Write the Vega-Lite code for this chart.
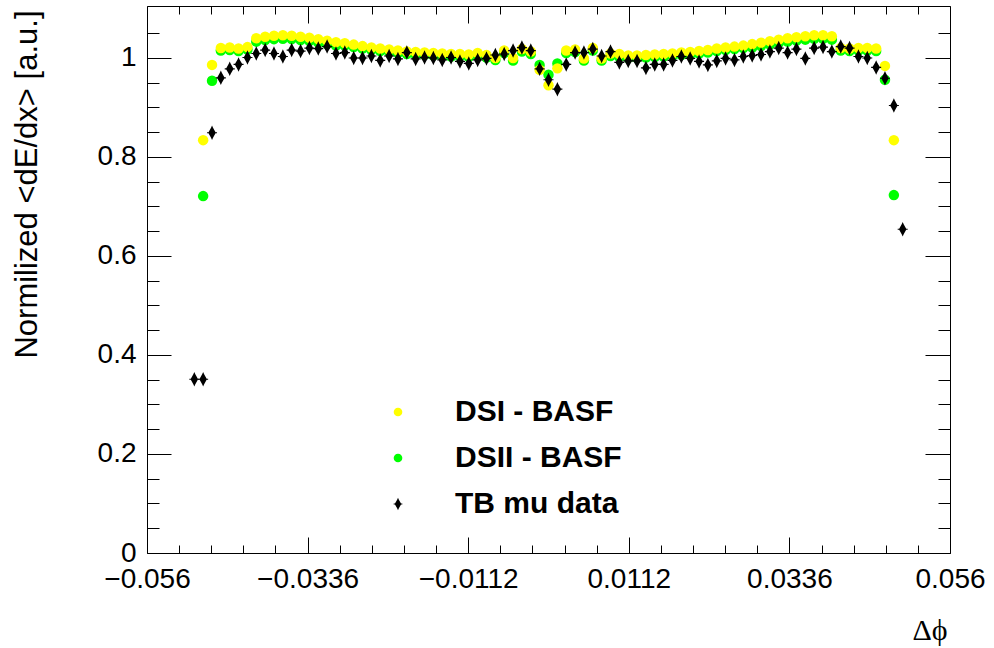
{
  "$schema": "https://vega.github.io/schema/vega-lite/v6.json",
  "width": 803,
  "height": 547,
  "autosize": {"type": "none"},
  "padding": {"left": 147, "top": 6, "right": 44, "bottom": 95},
  "background": "white",
  "config": {
    "view": {"stroke": "#000", "strokeWidth": 1},
    "font": "Liberation Sans",
    "axis": {"domain": false, "grid": false, "tickColor": "#000", "tickWidth": 1, "labelColor": "#000", "labelFont": "Liberation Sans", "labelFontSize": 28, "labelOverlap": false, "labelFlush": false, "labelBound": false, "titleColor": "#000", "titleFontWeight": "normal"}
  },
  "datasets": {
    "sim": [
      {"s":"DSII - BASF","x":-0.04817,"y":0.721},{"s":"DSII - BASF","x":-0.04693,"y":0.954},{"s":"DSII - BASF","x":-0.0457,"y":1.015},{"s":"DSII - BASF","x":-0.04446,"y":1.016},{"s":"DSII - BASF","x":-0.04323,"y":1.014},{"s":"DSII - BASF","x":-0.04199,"y":1.017},{"s":"DSII - BASF","x":-0.04076,"y":1.033},{"s":"DSII - BASF","x":-0.03952,"y":1.036},{"s":"DSII - BASF","x":-0.03829,"y":1.038},{"s":"DSII - BASF","x":-0.03705,"y":1.039},
      {"s":"DSII - BASF","x":-0.03582,"y":1.038},{"s":"DSII - BASF","x":-0.03458,"y":1.036},{"s":"DSII - BASF","x":-0.03335,"y":1.034},{"s":"DSII - BASF","x":-0.03211,"y":1.031},{"s":"DSII - BASF","x":-0.03088,"y":1.028},{"s":"DSII - BASF","x":-0.02964,"y":1.025},{"s":"DSII - BASF","x":-0.02841,"y":1.025},{"s":"DSII - BASF","x":-0.02717,"y":1.022},{"s":"DSII - BASF","x":-0.02594,"y":1.019},{"s":"DSII - BASF","x":-0.0247,"y":1.016},
      {"s":"DSII - BASF","x":-0.02347,"y":1.014},{"s":"DSII - BASF","x":-0.02223,"y":1.012},{"s":"DSII - BASF","x":-0.021,"y":1.010},{"s":"DSII - BASF","x":-0.01976,"y":1.008},{"s":"DSII - BASF","x":-0.01853,"y":1.007},{"s":"DSII - BASF","x":-0.01729,"y":1.006},{"s":"DSII - BASF","x":-0.01606,"y":1.005},{"s":"DSII - BASF","x":-0.01482,"y":1.004},{"s":"DSII - BASF","x":-0.01359,"y":1.003},{"s":"DSII - BASF","x":-0.01235,"y":1.003},
      {"s":"DSII - BASF","x":-0.01112,"y":1.002},{"s":"DSII - BASF","x":-0.00988,"y":1.005},{"s":"DSII - BASF","x":-0.00865,"y":1.001},{"s":"DSII - BASF","x":-0.00741,"y":0.996},{"s":"DSII - BASF","x":-0.00618,"y":1.010},{"s":"DSII - BASF","x":-0.00494,"y":0.995},{"s":"DSII - BASF","x":-0.00371,"y":1.013},{"s":"DSII - BASF","x":-0.00247,"y":1.008},{"s":"DSII - BASF","x":-0.00124,"y":0.986},{"s":"DSII - BASF","x":0,"y":0.966},
      {"s":"DSII - BASF","x":0.00124,"y":0.989},{"s":"DSII - BASF","x":0.00247,"y":1.010},{"s":"DSII - BASF","x":0.00371,"y":1.012},{"s":"DSII - BASF","x":0.00494,"y":0.995},{"s":"DSII - BASF","x":0.00618,"y":1.015},{"s":"DSII - BASF","x":0.00741,"y":0.995},{"s":"DSII - BASF","x":0.00865,"y":1.004},{"s":"DSII - BASF","x":0.00988,"y":1.002},{"s":"DSII - BASF","x":0.01112,"y":1.000},{"s":"DSII - BASF","x":0.01235,"y":1.000},
      {"s":"DSII - BASF","x":0.01359,"y":1.001},{"s":"DSII - BASF","x":0.01482,"y":1.002},{"s":"DSII - BASF","x":0.01606,"y":1.003},{"s":"DSII - BASF","x":0.01729,"y":1.004},{"s":"DSII - BASF","x":0.01853,"y":1.006},{"s":"DSII - BASF","x":0.01976,"y":1.007},{"s":"DSII - BASF","x":0.021,"y":1.009},{"s":"DSII - BASF","x":0.02223,"y":1.011},{"s":"DSII - BASF","x":0.02347,"y":1.014},{"s":"DSII - BASF","x":0.0247,"y":1.016},
      {"s":"DSII - BASF","x":0.02594,"y":1.018},{"s":"DSII - BASF","x":0.02717,"y":1.020},{"s":"DSII - BASF","x":0.02841,"y":1.021},{"s":"DSII - BASF","x":0.02964,"y":1.024},{"s":"DSII - BASF","x":0.03088,"y":1.027},{"s":"DSII - BASF","x":0.03211,"y":1.030},{"s":"DSII - BASF","x":0.03335,"y":1.033},{"s":"DSII - BASF","x":0.03458,"y":1.035},{"s":"DSII - BASF","x":0.03582,"y":1.037},{"s":"DSII - BASF","x":0.03705,"y":1.039},
      {"s":"DSII - BASF","x":0.03829,"y":1.039},{"s":"DSII - BASF","x":0.03952,"y":1.037},{"s":"DSII - BASF","x":0.04076,"y":1.015},{"s":"DSII - BASF","x":0.04199,"y":1.014},{"s":"DSII - BASF","x":0.04323,"y":1.015},{"s":"DSII - BASF","x":0.04446,"y":1.015},{"s":"DSII - BASF","x":0.0457,"y":1.014},{"s":"DSII - BASF","x":0.04693,"y":0.956},{"s":"DSII - BASF","x":0.04817,"y":0.723},
      {"s":"DSI - BASF","x":-0.04817,"y":0.834},{"s":"DSI - BASF","x":-0.04693,"y":0.986},{"s":"DSI - BASF","x":-0.0457,"y":1.020},{"s":"DSI - BASF","x":-0.04446,"y":1.021},{"s":"DSI - BASF","x":-0.04323,"y":1.019},{"s":"DSI - BASF","x":-0.04199,"y":1.022},{"s":"DSI - BASF","x":-0.04076,"y":1.040},{"s":"DSI - BASF","x":-0.03952,"y":1.043},{"s":"DSI - BASF","x":-0.03829,"y":1.045},{"s":"DSI - BASF","x":-0.03705,"y":1.046},
      {"s":"DSI - BASF","x":-0.03582,"y":1.045},{"s":"DSI - BASF","x":-0.03458,"y":1.043},{"s":"DSI - BASF","x":-0.03335,"y":1.041},{"s":"DSI - BASF","x":-0.03211,"y":1.038},{"s":"DSI - BASF","x":-0.03088,"y":1.035},{"s":"DSI - BASF","x":-0.02964,"y":1.032},{"s":"DSI - BASF","x":-0.02841,"y":1.030},{"s":"DSI - BASF","x":-0.02717,"y":1.027},{"s":"DSI - BASF","x":-0.02594,"y":1.024},{"s":"DSI - BASF","x":-0.0247,"y":1.021},
      {"s":"DSI - BASF","x":-0.02347,"y":1.019},{"s":"DSI - BASF","x":-0.02223,"y":1.017},{"s":"DSI - BASF","x":-0.021,"y":1.015},{"s":"DSI - BASF","x":-0.01976,"y":1.013},{"s":"DSI - BASF","x":-0.01853,"y":1.012},{"s":"DSI - BASF","x":-0.01729,"y":1.011},{"s":"DSI - BASF","x":-0.01606,"y":1.010},{"s":"DSI - BASF","x":-0.01482,"y":1.009},{"s":"DSI - BASF","x":-0.01359,"y":1.008},{"s":"DSI - BASF","x":-0.01235,"y":1.008},
      {"s":"DSI - BASF","x":-0.01112,"y":1.007},{"s":"DSI - BASF","x":-0.00988,"y":1.010},{"s":"DSI - BASF","x":-0.00865,"y":1.006},{"s":"DSI - BASF","x":-0.00741,"y":1.000},{"s":"DSI - BASF","x":-0.00618,"y":1.015},{"s":"DSI - BASF","x":-0.00494,"y":1.000},{"s":"DSI - BASF","x":-0.00371,"y":1.018},{"s":"DSI - BASF","x":-0.00247,"y":1.013},{"s":"DSI - BASF","x":-0.00124,"y":0.976},{"s":"DSI - BASF","x":0,"y":0.945},
      {"s":"DSI - BASF","x":0.00124,"y":0.979},{"s":"DSI - BASF","x":0.00247,"y":1.015},{"s":"DSI - BASF","x":0.00371,"y":1.017},{"s":"DSI - BASF","x":0.00494,"y":0.999},{"s":"DSI - BASF","x":0.00618,"y":1.020},{"s":"DSI - BASF","x":0.00741,"y":0.999},{"s":"DSI - BASF","x":0.00865,"y":1.009},{"s":"DSI - BASF","x":0.00988,"y":1.008},{"s":"DSI - BASF","x":0.01112,"y":1.005},{"s":"DSI - BASF","x":0.01235,"y":1.005},
      {"s":"DSI - BASF","x":0.01359,"y":1.006},{"s":"DSI - BASF","x":0.01482,"y":1.007},{"s":"DSI - BASF","x":0.01606,"y":1.008},{"s":"DSI - BASF","x":0.01729,"y":1.009},{"s":"DSI - BASF","x":0.01853,"y":1.011},{"s":"DSI - BASF","x":0.01976,"y":1.012},{"s":"DSI - BASF","x":0.021,"y":1.014},{"s":"DSI - BASF","x":0.02223,"y":1.016},{"s":"DSI - BASF","x":0.02347,"y":1.019},{"s":"DSI - BASF","x":0.0247,"y":1.021},
      {"s":"DSI - BASF","x":0.02594,"y":1.023},{"s":"DSI - BASF","x":0.02717,"y":1.025},{"s":"DSI - BASF","x":0.02841,"y":1.028},{"s":"DSI - BASF","x":0.02964,"y":1.031},{"s":"DSI - BASF","x":0.03088,"y":1.034},{"s":"DSI - BASF","x":0.03211,"y":1.037},{"s":"DSI - BASF","x":0.03335,"y":1.040},{"s":"DSI - BASF","x":0.03458,"y":1.042},{"s":"DSI - BASF","x":0.03582,"y":1.044},{"s":"DSI - BASF","x":0.03705,"y":1.046},
      {"s":"DSI - BASF","x":0.03829,"y":1.046},{"s":"DSI - BASF","x":0.03952,"y":1.044},{"s":"DSI - BASF","x":0.04076,"y":1.020},{"s":"DSI - BASF","x":0.04199,"y":1.019},{"s":"DSI - BASF","x":0.04323,"y":1.020},{"s":"DSI - BASF","x":0.04446,"y":1.020},{"s":"DSI - BASF","x":0.0457,"y":1.019},{"s":"DSI - BASF","x":0.04693,"y":0.984},{"s":"DSI - BASF","x":0.04817,"y":0.834}
    ],
    "tb": [
      {"s":"TB mu data","x":-0.0494,"y":0.351},{"s":"TB mu data","x":-0.04817,"y":0.351},{"s":"TB mu data","x":-0.04693,"y":0.849},{"s":"TB mu data","x":-0.0457,"y":0.960},{"s":"TB mu data","x":-0.04446,"y":0.978},{"s":"TB mu data","x":-0.04323,"y":0.987},{"s":"TB mu data","x":-0.04199,"y":1.001},{"s":"TB mu data","x":-0.04076,"y":1.009},{"s":"TB mu data","x":-0.03952,"y":1.016},{"s":"TB mu data","x":-0.03829,"y":1.009},
      {"s":"TB mu data","x":-0.03705,"y":1.003},{"s":"TB mu data","x":-0.03582,"y":1.016},{"s":"TB mu data","x":-0.03458,"y":1.014},{"s":"TB mu data","x":-0.03335,"y":1.020},{"s":"TB mu data","x":-0.03211,"y":1.019},{"s":"TB mu data","x":-0.03088,"y":1.023},{"s":"TB mu data","x":-0.02964,"y":1.009},{"s":"TB mu data","x":-0.02841,"y":1.011},{"s":"TB mu data","x":-0.02717,"y":1.000},{"s":"TB mu data","x":-0.02594,"y":1.000},
      {"s":"TB mu data","x":-0.0247,"y":1.004},{"s":"TB mu data","x":-0.02347,"y":0.995},{"s":"TB mu data","x":-0.02223,"y":1.004},{"s":"TB mu data","x":-0.021,"y":0.998},{"s":"TB mu data","x":-0.01976,"y":1.011},{"s":"TB mu data","x":-0.01853,"y":0.998},{"s":"TB mu data","x":-0.01729,"y":1.001},{"s":"TB mu data","x":-0.01606,"y":1.000},{"s":"TB mu data","x":-0.01482,"y":0.996},{"s":"TB mu data","x":-0.01359,"y":1.001},
      {"s":"TB mu data","x":-0.01235,"y":0.993},{"s":"TB mu data","x":-0.01112,"y":0.989},{"s":"TB mu data","x":-0.00988,"y":0.996},{"s":"TB mu data","x":-0.00865,"y":0.999},{"s":"TB mu data","x":-0.00741,"y":1.006},{"s":"TB mu data","x":-0.00618,"y":1.008},{"s":"TB mu data","x":-0.00494,"y":1.015},{"s":"TB mu data","x":-0.00371,"y":1.021},{"s":"TB mu data","x":-0.00247,"y":1.015},{"s":"TB mu data","x":-0.00124,"y":0.978},
      {"s":"TB mu data","x":0,"y":0.956},{"s":"TB mu data","x":0.00124,"y":0.937},{"s":"TB mu data","x":0.00247,"y":0.987},{"s":"TB mu data","x":0.00371,"y":1.011},{"s":"TB mu data","x":0.00494,"y":1.011},{"s":"TB mu data","x":0.00618,"y":1.018},{"s":"TB mu data","x":0.00741,"y":1.004},{"s":"TB mu data","x":0.00865,"y":1.013},{"s":"TB mu data","x":0.00988,"y":0.991},{"s":"TB mu data","x":0.01112,"y":0.994},
      {"s":"TB mu data","x":0.01235,"y":0.994},{"s":"TB mu data","x":0.01359,"y":0.980},{"s":"TB mu data","x":0.01482,"y":0.987},{"s":"TB mu data","x":0.01606,"y":0.987},{"s":"TB mu data","x":0.01729,"y":0.995},{"s":"TB mu data","x":0.01853,"y":1.003},{"s":"TB mu data","x":0.01976,"y":0.999},{"s":"TB mu data","x":0.021,"y":0.993},{"s":"TB mu data","x":0.02223,"y":0.986},{"s":"TB mu data","x":0.02347,"y":0.994},
      {"s":"TB mu data","x":0.0247,"y":0.999},{"s":"TB mu data","x":0.02594,"y":0.996},{"s":"TB mu data","x":0.02717,"y":1.003},{"s":"TB mu data","x":0.02841,"y":1.005},{"s":"TB mu data","x":0.02964,"y":1.007},{"s":"TB mu data","x":0.03088,"y":1.013},{"s":"TB mu data","x":0.03211,"y":1.020},{"s":"TB mu data","x":0.03335,"y":1.011},{"s":"TB mu data","x":0.03458,"y":1.018},{"s":"TB mu data","x":0.03582,"y":0.999},
      {"s":"TB mu data","x":0.03705,"y":1.020},{"s":"TB mu data","x":0.03829,"y":1.022},{"s":"TB mu data","x":0.03952,"y":1.013},{"s":"TB mu data","x":0.04076,"y":1.023},{"s":"TB mu data","x":0.04199,"y":1.020},{"s":"TB mu data","x":0.04323,"y":1.003},{"s":"TB mu data","x":0.04446,"y":1.000},{"s":"TB mu data","x":0.0457,"y":0.981},{"s":"TB mu data","x":0.04693,"y":0.959},{"s":"TB mu data","x":0.04817,"y":0.904},
      {"s":"TB mu data","x":0.0494,"y":0.654}
    ]
  },
  "layer": [
    {
      "data": {"name": "sim"},
      "mark": {"type": "point", "filled": true, "opacity": 1, "size": 110, "strokeWidth": 0},
      "encoding": {
        "x": {"field": "x", "type": "quantitative", "scale": {"domain": [-0.056, 0.056], "nice": false, "zero": false},
          "axis": {"orient": "bottom",
            "values": [-0.056,-0.05152,-0.04704,-0.04256,-0.03808,-0.0336,-0.02912,-0.02464,-0.02016,-0.01568,-0.0112,-0.00672,-0.00224,0.00224,0.00672,0.0112,0.01568,0.02016,0.02464,0.02912,0.0336,0.03808,0.04256,0.04704,0.05152,0.056],
            "labelExpr": "abs((datum.value + 0.056) / 0.0224 - round((datum.value + 0.056) / 0.0224)) < 0.01 ? format(datum.value, '.4~f') : ''",
            "tickSize": {"condition": {"test": "abs((datum.value + 0.056) / 0.0224 - round((datum.value + 0.056) / 0.0224)) < 0.01", "value": -16}, "value": -8},
            "labelPadding": 28,
            "title": "Δϕ", "titleFont": "Liberation Serif", "titleFontSize": 30, "titleAnchor": "end", "titleAlign": "right", "titleBaseline": "middle", "titleX": 800, "titleY": 77}},
        "y": {"field": "y", "type": "quantitative", "scale": {"domain": [0, 1.105], "nice": false, "zero": false},
          "axis": {"orient": "left",
            "values": [0,0.05,0.1,0.15,0.2,0.25,0.3,0.35,0.4,0.45,0.5,0.55,0.6,0.65,0.7,0.75,0.8,0.85,0.9,0.95,1,1.05],
            "labelExpr": "abs(datum.value * 5 - round(datum.value * 5)) < 0.01 ? format(datum.value, '~g') : ''",
            "tickSize": {"condition": {"test": "abs(datum.value * 5 - round(datum.value * 5)) < 0.01", "value": -24}, "value": -12},
            "labelPadding": 35,
            "title": "Normilized <dE/dx> [a.u.]", "titleFontSize": 31, "titleAngle": -90, "titleAlign": "right", "titleBaseline": "middle", "titleX": -120, "titleY": 4}},
        "color": {"field": "s", "type": "nominal",
          "scale": {"domain": ["DSI - BASF", "DSII - BASF", "TB mu data"], "range": ["#ffff00", "#00ff00", "#000000"]},
          "legend": {"orient": "none", "legendX": 236, "legendY": 391, "title": null, "direction": "vertical", "padding": 0, "labelFont": "Liberation Sans", "labelFontWeight": "bold", "labelFontSize": 30, "labelColor": "#000", "labelLimit": 400, "labelOffset": 42, "rowPadding": 16, "symbolSize": 75, "symbolStrokeWidth": 0}},
        "shape": {"field": "s", "type": "nominal",
          "scale": {"domain": ["DSI - BASF", "DSII - BASF", "TB mu data"], "range": ["circle", "circle", "M0,-1.45L0.2,-1.0L0.7,-0.12L1,-0.12L1,0.12L0.7,0.12L0.2,1.0L0,1.45L-0.2,1.0L-0.7,0.12L-1,0.12L-1,-0.12L-0.7,-0.12L-0.2,-1.0Z"]},
          "legend": {"orient": "none", "legendX": 236, "legendY": 391, "title": null, "direction": "vertical", "padding": 0, "labelFont": "Liberation Sans", "labelFontWeight": "bold", "labelFontSize": 30, "labelColor": "#000", "labelLimit": 400, "labelOffset": 42, "rowPadding": 16, "symbolSize": 75, "symbolStrokeWidth": 0}}
      }
    },
    {
      "data": {"name": "tb"},
      "mark": {"type": "point", "filled": true, "opacity": 1, "size": 100, "strokeWidth": 0},
      "encoding": {
        "x": {"field": "x", "type": "quantitative",
          "axis": {"orient": "top",
            "values": [-0.056,-0.05152,-0.04704,-0.04256,-0.03808,-0.0336,-0.02912,-0.02464,-0.02016,-0.01568,-0.0112,-0.00672,-0.00224,0.00224,0.00672,0.0112,0.01568,0.02016,0.02464,0.02912,0.0336,0.03808,0.04256,0.04704,0.05152,0.056],
            "labels": false, "title": null,
            "tickSize": {"condition": {"test": "abs((datum.value + 0.056) / 0.0224 - round((datum.value + 0.056) / 0.0224)) < 0.01", "value": -17}, "value": -8}}},
        "y": {"field": "y", "type": "quantitative",
          "axis": {"orient": "right",
            "values": [0,0.05,0.1,0.15,0.2,0.25,0.3,0.35,0.4,0.45,0.5,0.55,0.6,0.65,0.7,0.75,0.8,0.85,0.9,0.95,1,1.05],
            "labels": false, "title": null,
            "tickSize": {"condition": {"test": "abs(datum.value * 5 - round(datum.value * 5)) < 0.01", "value": -25}, "value": -12}}},
        "color": {"field": "s", "type": "nominal"},
        "shape": {"field": "s", "type": "nominal"}
      }
    }
  ],
  "resolve": {"axis": {"x": "independent", "y": "independent"}}
}
